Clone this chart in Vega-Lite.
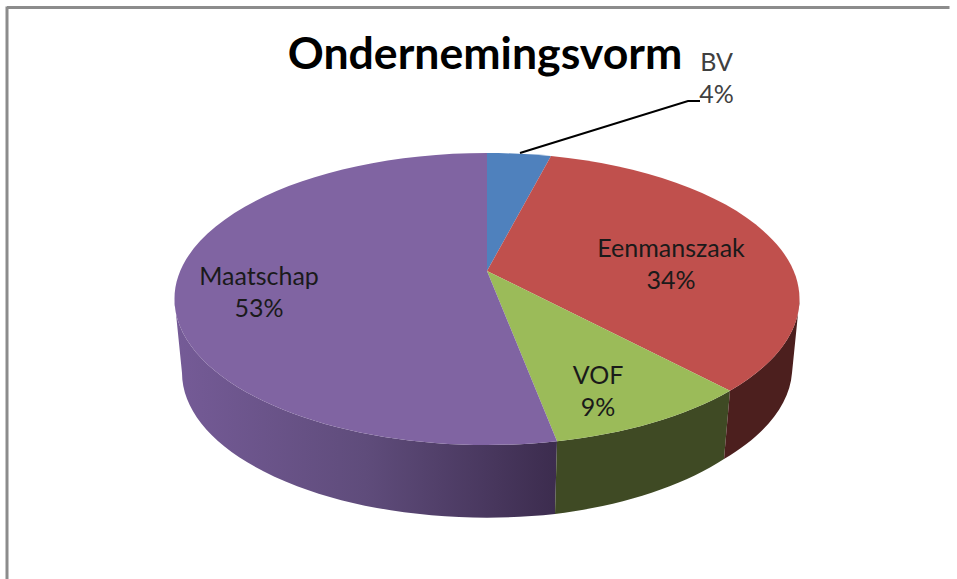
{"$schema":"https://vega.github.io/schema/vega-lite/v6.json","autosize":"none","width":957,"height":499,"padding":{"left":0,"right":0,"top":80,"bottom":0},"background":"white","view":{"stroke":null},"title":{"text":"Ondernemingsvorm","font":"Lato","fontSize":44.6,"fontWeight":"bold","color":"black","anchor":"middle","dx":6.5,"dy":86,"offset":8},"data":{"values":[{"category":"BV","share":4},{"category":"Eenmanszaak","share":34},{"category":"VOF","share":9},{"category":"Maatschap","share":53}]},"transform":[{"calculate":"datum.category + '\\n' + datum.share + '%'","as":"label"}],"layer":[{"transform":[{"filter":"datum.category === 'Maatschap'"}],"mark":{"type":"point","filled":true,"opacity":1,"size":4,"shape":"M78.5 111.8 A312.5 146 0 0 1 -304 -30.5 L-296.5 43.5 A305 145 0 0 0 76.5 184.5 Z","fill":{"gradient":"linear","x1":0,"x2":1,"y1":0,"y2":0,"stops":[{"offset":0,"color":"#755b97"},{"offset":0.5,"color":"#5f4c7b"},{"offset":1,"color":"#3c2c4e"}]}}},{"transform":[{"filter":"datum.category === 'VOF'"}],"mark":{"type":"point","filled":true,"opacity":1,"size":4,"shape":"M251.5 61.3 A312.5 146 0 0 1 78.5 111.8 L76.5 184.5 A305 145 0 0 0 245.5 129.5 Z","fill":"#3f4a24"}},{"transform":[{"filter":"datum.category === 'Eenmanszaak'"}],"mark":{"type":"point","filled":true,"opacity":1,"size":4,"shape":"M321 -30.5 A312.5 146 0 0 1 251.5 61.3 L245.5 129.5 A305 145 0 0 0 313.5 43.5 Z","fill":"#4c1f1e"}},{"mark":{"type":"point","filled":true,"opacity":1,"size":4},"encoding":{"shape":{"field":"category","type":"nominal","legend":null,"scale":{"domain":["BV","Eenmanszaak","VOF","Maatschap"],"range":["M8.5 -58.5 L8.5 -176.5 A312.5 146 0 0 1 72.5 -173.4 Z","M8.5 -58.5 L72.5 -173.4 A312.5 146 0 0 1 251.5 61.3 Z","M8.5 -58.5 L251.5 61.3 A312.5 146 0 0 1 78.5 111.8 Z","M8.5 -58.5 L78.5 111.8 A312.5 146 0 0 1 -304 -30.5 A312.5 146 0 0 1 8.5 -176.5 Z"]}},"fill":{"field":"category","type":"nominal","legend":null,"scale":{"domain":["BV","Eenmanszaak","VOF","Maatschap"],"range":["#4f81bd","#c0504d","#9bbb59","#8064a2"]}}}},{"transform":[{"filter":"datum.category === 'BV'"}],"mark":{"type":"point","filled":false,"opacity":1,"size":4,"stroke":"black","strokeWidth":2,"shape":"M41.5 -176.5 L209.5 -228.5 L221.5 -228.5"}},{"transform":[{"filter":"datum.category === 'BV'"}],"mark":{"type":"point","filled":false,"opacity":1,"size":4,"stroke":"#8c8c8c","strokeWidth":3,"shape":"M-471.5 -323 L-471.5 249.5 M-471.5 -322 L471 -322"}},{"transform":[{"filter":"datum.category === 'BV'"}],"mark":{"type":"text","font":"Lato","fontSize":25,"lineBreak":"\n","lineHeight":32,"align":"center","baseline":"alphabetic","color":"#404040","dx":238,"dy":-258.5},"encoding":{"text":{"field":"label"}}},{"transform":[{"filter":"datum.category === 'Eenmanszaak'"}],"mark":{"type":"text","font":"Lato","fontSize":25,"lineBreak":"\n","lineHeight":32,"align":"center","baseline":"alphabetic","color":"#1a1a1a","dx":192.5,"dy":-72.5},"encoding":{"text":{"field":"label"}}},{"transform":[{"filter":"datum.category === 'VOF'"}],"mark":{"type":"text","font":"Lato","fontSize":25,"lineBreak":"\n","lineHeight":32,"align":"center","baseline":"alphabetic","color":"#1a1a1a","dx":119.5,"dy":54.5},"encoding":{"text":{"field":"label"}}},{"transform":[{"filter":"datum.category === 'Maatschap'"}],"mark":{"type":"text","font":"Lato","fontSize":25,"lineBreak":"\n","lineHeight":32,"align":"center","baseline":"alphabetic","color":"#1a1a1a","dx":-219.5,"dy":-44.5},"encoding":{"text":{"field":"label"}}}]}
